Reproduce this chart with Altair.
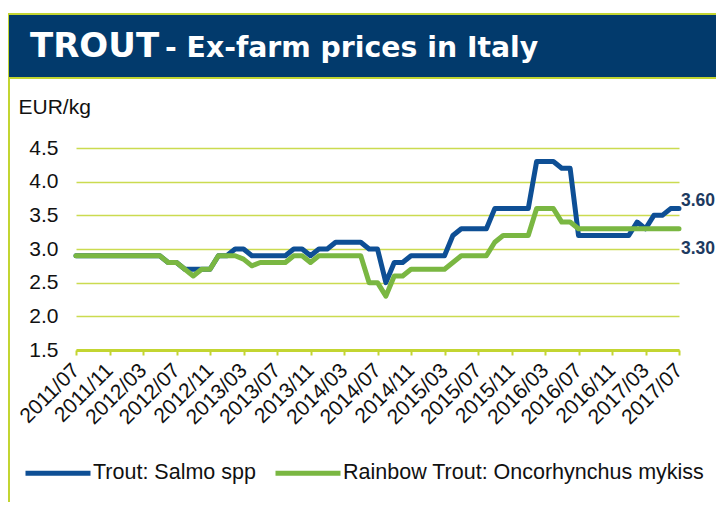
import altair as alt
import pandas as pd

# ---- data -------------------------------------------------------------
months = pd.date_range("2011-07-01", "2017-07-01", freq="MS").strftime("%Y/%m").tolist()
tick_months = months[::4]

salmo = [
    2.9, 2.9, 2.9, 2.9, 2.9, 2.9,                                  # 2011/07-12
    2.9, 2.9, 2.9, 2.9, 2.9, 2.8, 2.8, 2.7, 2.7, 2.7, 2.7, 2.9,    # 2012
    2.9, 3.0, 3.0, 2.9, 2.9, 2.9, 2.9, 2.9, 3.0, 3.0, 2.9, 3.0,    # 2013
    3.0, 3.1, 3.1, 3.1, 3.1, 3.0, 3.0, 2.5, 2.8, 2.8, 2.9, 2.9,    # 2014
    2.9, 2.9, 2.9, 3.2, 3.3, 3.3, 3.3, 3.3, 3.6, 3.6, 3.6, 3.6,    # 2015
    3.6, 4.3, 4.3, 4.3, 4.2, 4.2, 3.2, 3.2, 3.2, 3.2, 3.2, 3.2,    # 2016
    3.2, 3.4, 3.3, 3.5, 3.5, 3.6, 3.6,                             # 2017/01-07
]
rainbow = [
    2.9, 2.9, 2.9, 2.9, 2.9, 2.9,
    2.9, 2.9, 2.9, 2.9, 2.9, 2.8, 2.8, 2.7, 2.6, 2.7, 2.7, 2.9,
    2.9, 2.9, 2.85, 2.75, 2.8, 2.8, 2.8, 2.8, 2.9, 2.9, 2.8, 2.9,
    2.9, 2.9, 2.9, 2.9, 2.9, 2.5, 2.5, 2.3, 2.6, 2.6, 2.7, 2.7,
    2.7, 2.7, 2.7, 2.8, 2.9, 2.9, 2.9, 2.9, 3.1, 3.2, 3.2, 3.2,
    3.2, 3.6, 3.6, 3.6, 3.4, 3.4, 3.3, 3.3, 3.3, 3.3, 3.3, 3.3,
    3.3, 3.3, 3.3, 3.3, 3.3, 3.3, 3.3,
]
series_names = ["Trout: Salmo spp", "Rainbow Trout: Oncorhynchus mykiss"]
series_colors = ["#0e4f95", "#7ab742"]
y_ticks = [1.5, 2.0, 2.5, 3.0, 3.5, 4.0, 4.5]
title_main = "TROUT"
title_sub = "- Ex-farm prices in Italy"
y_unit = "EUR/kg"

df = pd.DataFrame({
    "month": months + months,
    "price": salmo + rainbow,
    "series": [series_names[0]] * len(months) + [series_names[1]] * len(months),
})
last = df[df["month"] == months[-1]]

# ---- style ------------------------------------------------------------
LIME = "#c3d531"
GRID = "#cbdb50"
NAVY = "#023a6c"
FONT = "Liberation Sans"
W, H = 603, 202

color = alt.Color(
    "series:N",
    scale=alt.Scale(domain=series_names, range=series_colors),
    legend=alt.Legend(
        orient="none", legendX=-53, legendY=290, direction="horizontal",
        title=None, symbolType="stroke", symbolSize=4225, symbolStrokeWidth=5,
        labelFont=FONT, labelFontSize=21.5, labelColor="#111111", labelOffset=0,
        columnPadding=9, labelLimit=0, padding=0,
    ),
)
x = alt.X(
    "month:O",
    scale=alt.Scale(type="point", padding=0, domain=months),
    axis=alt.Axis(
        values=tick_months, labelAngle=-45, labelAlign="right", labelBaseline="middle",
        labelFont=FONT, labelFontSize=21, labelColor="#111111", labelPadding=12,
        labelOverlap=False, labelBound=False,
        domainColor=LIME, domainWidth=3, tickColor=LIME, tickWidth=2, tickSize=5,
        grid=False, title=None,
    ),
)
y = alt.Y(
    "price:Q",
    scale=alt.Scale(domain=[1.5, 4.5], nice=False, zero=False),
    axis=alt.Axis(
        values=y_ticks, tickCount=20, format=".1f", grid=True, gridColor=GRID,
        gridWidth=1.5, labelOverlap=False, labelBound=False, labelFlush=False,
        domain=False, ticks=False, labelPadding=18, labelFont=FONT, labelFontSize=21,
        labelColor="#111111", title=y_unit, titleAngle=0, titleX=-58, titleY=-35,
        titleAlign="left", titleBaseline="alphabetic", titleFont=FONT,
        titleFontSize=21, titleFontWeight="normal", titleColor="#111111",
    ),
)

base = alt.Chart(df).encode(x=x, y=y, color=color)
line_salmo = base.transform_filter(alt.datum.series == series_names[0]).mark_line(
    strokeWidth=5, strokeJoin="round", strokeCap="round")
line_rainbow = base.transform_filter(alt.datum.series == series_names[1]).mark_line(
    strokeWidth=5, strokeJoin="round", strokeCap="round")

lab = alt.Chart(last).encode(
    x=alt.X("month:O", scale=alt.Scale(type="point", padding=0, domain=months)),
    y=alt.Y("price:Q"),
    text=alt.Text("price:Q", format=".2f"),
)
lab_salmo = lab.transform_filter(alt.datum.series == series_names[0]).mark_text(
    align="left", baseline="middle", dx=2, dy=-8, font=FONT, fontSize=17.5,
    fontWeight="bold", color="#1d3a60")
lab_rainbow = lab.transform_filter(alt.datum.series == series_names[1]).mark_text(
    align="left", baseline="middle", dx=2, dy=20, font=FONT, fontSize=17.5,
    fontWeight="bold", color="#1d3a60")

one = pd.DataFrame({"main": [title_main], "sub": [title_sub]})
header = alt.Chart(one).mark_rect(fill=NAVY, stroke=LIME, strokeWidth=2).encode(
    x=alt.value(-68), x2=alt.value(660), y=alt.value(-134), y2=alt.value(-70))
left_line = alt.Chart(one).mark_rule(color=LIME, strokeWidth=2).encode(
    x=alt.value(-67), y=alt.value(-70), y2=alt.value(400))
t_main = alt.Chart(one).mark_text(
    align="left", baseline="alphabetic", font="DejaVu Sans", fontSize=34,
    fontWeight="bold", color="white").encode(
    text="main:N", x=alt.value(-46), y=alt.value(-91))
t_sub = alt.Chart(one).mark_text(
    align="left", baseline="alphabetic", font="DejaVu Sans", fontSize=28.3,
    fontWeight="bold", color="white").encode(
    text="sub:N", x=alt.value(89), y=alt.value(-91))

chart = alt.layer(
    header, left_line, t_main, t_sub, line_salmo, line_rainbow, lab_salmo, lab_rainbow
).properties(
    width=W, height=H,
    autosize=alt.AutoSizeParams(type="none"),
    padding={"left": 68, "top": 140, "right": 37, "bottom": 152},
    background="white",
).configure_view(stroke=None)

chart.save("out.html", embed_options={"renderer": "svg", "actions": False})
